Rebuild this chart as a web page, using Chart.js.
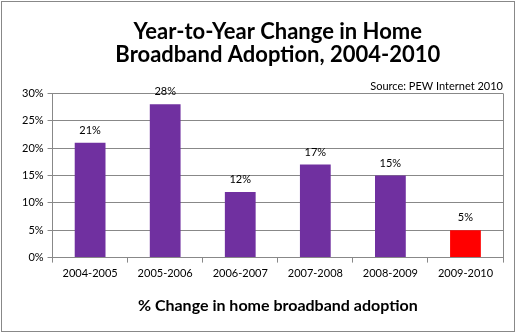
<!DOCTYPE html>
<html>
<head>
<meta charset="utf-8">
<script src="https://cdn.jsdelivr.net/npm/chart.js@4/dist/chart.umd.min.js"></script>
<style>
  html, body { margin: 0; padding: 0; background: #fff; }
  #wrap { position: relative; width: 519px; height: 336px; }
  #frame { position: absolute; left: 1px; top: 1px; width: 514px; height: 331px; border: 1px solid #888; box-sizing: border-box; pointer-events: none; }
</style>
</head>
<body>
<div id="wrap">
  <canvas id="chart" width="519" height="336"></canvas>
  <div id="frame"></div>
</div>
<script>
const periods = ['2004-2005', '2005-2006', '2006-2007', '2007-2008', '2008-2009', '2009-2010'];
const changePct = [21, 28, 12, 17, 15, 5];
const barColors = ['#7030A0', '#7030A0', '#7030A0', '#7030A0', '#7030A0', '#FF0000'];
const yTicks = [0, 5, 10, 15, 20, 25, 30];
const titleLines = ['Year-to-Year Change in Home', 'Broadband Adoption, 2004-2010'];

const fontFamily = 'Lato, "Open Sans", sans-serif';
const titleFont = { family: fontFamily, size: 22, weight: 'bold', lineHeight: 1.05 };

// title centred over the plot area, value labels above each bar, right edge of plot area
const extras = {
    id: 'extras',
    afterDatasetsDraw(chart) {
        const ctx = chart.ctx;
        const area = chart.chartArea;
        ctx.save();
        ctx.strokeStyle = '#888';
        ctx.lineWidth = 1;
        ctx.beginPath();
        ctx.moveTo(Math.round(area.right) + 0.5, area.top);
        ctx.lineTo(Math.round(area.right) + 0.5, area.bottom);
        ctx.stroke();

        ctx.font = '11px ' + fontFamily;
        ctx.fillStyle = '#000';
        ctx.textAlign = 'center';
        ctx.textBaseline = 'bottom';
        const meta = chart.getDatasetMeta(0);
        meta.data.forEach((bar, i) => {
            ctx.fillText(changePct[i] + '%', bar.x, bar.y - 7);
        });

        const tb = chart.titleBlock;
        const lh = titleFont.size * titleFont.lineHeight;
        ctx.font = 'bold ' + titleFont.size + 'px ' + fontFamily;
        ctx.textBaseline = 'middle';
        const cx = (area.left + area.right) / 2;
        titleLines.forEach((line, i) => {
            ctx.fillText(line, cx, tb.top + tb.options.padding.top + lh * (i + 0.5));
        });
        ctx.restore();
    }
};

new Chart(document.getElementById('chart'), {
    type: 'bar',
    data: {
        labels: periods,
        datasets: [{
            label: '% Change in home broadband adoption',
            data: changePct,
            backgroundColor: barColors,
            barPercentage: 0.41,
            categoryPercentage: 1.0
        }]
    },
    options: {
        responsive: false,
        animation: false,
        layout: { padding: { left: 18, right: 16, top: 0, bottom: 21 } },
        plugins: {
            legend: { display: false },
            tooltip: { enabled: false },
            title: {
                display: true,
                text: titleLines,
                color: 'rgba(0,0,0,0)',
                font: titleFont,
                padding: { top: 20, bottom: 14 }
            },
            subtitle: {
                display: true,
                text: 'Source: PEW Internet 2010',
                align: 'end',
                color: '#000',
                font: { family: fontFamily, size: 11 },
                padding: { top: 0, bottom: 0 }
            }
        },
        scales: {
            x: {
                grid: { display: true, drawOnChartArea: false, offset: true, color: '#888', tickLength: 5 },
                border: { color: '#888' },
                ticks: { color: '#000', font: { family: fontFamily, size: 11 }, padding: 4 },
                title: {
                    display: true,
                    text: '% Change in home broadband adoption',
                    color: '#000',
                    font: { family: fontFamily, size: 16, weight: 'bold' },
                    padding: { top: 12, bottom: 0 }
                }
            },
            y: {
                min: 0,
                max: 30,
                afterBuildTicks(axis) { axis.ticks = yTicks.map(v => ({ value: v })); },
                grid: { color: '#888', tickLength: 5 },
                border: { color: '#888' },
                ticks: {
                    color: '#000',
                    font: { family: fontFamily, size: 11 },
                    padding: 4,
                    callback: v => v + '%'
                }
            }
        }
    },
    plugins: [extras]
});
</script>
</body>
</html>
